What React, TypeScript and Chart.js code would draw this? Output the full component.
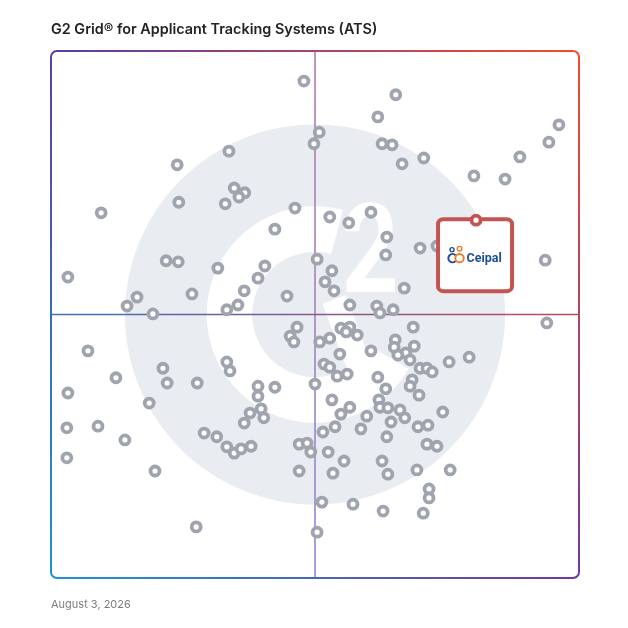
import { useEffect, useRef } from "react";
import { Chart, registerables } from "chart.js";

Chart.register(...registerables);

const TITLE = "G2 Grid® for Applicant Tracking Systems (ATS)";
const DATE_LABEL = "August 3, 2026";

// Satisfaction (x) and Market Presence (y), 0-100
const satisfaction = [
  47.9, 65.3, 61.9, 96.2, 50.8, 49.8, 62.7, 64.6, 94.3, 33.7, 88.8, 70.6, 66.5, 23.9, 80.1, 86.0, 34.7, 36.7, 35.6, 24.2,
  33.0, 9.5, 46.2, 60.6, 52.8, 56.4, 42.4, 63.6, 69.9, 73.1, 63.4, 50.4, 21.8, 24.1, 93.6, 31.6, 40.5, 3.2, 53.2, 39.2,
  51.9, 53.6, 66.9, 36.6, 26.7, 44.7, 16.3, 14.4, 35.4, 33.3, 56.6, 61.7, 64.8, 62.3, 19.3,
  93.9, 46.6, 68.6, 54.9, 56.6, 55.9, 45.3, 52.8, 58.0, 50.9, 46.0, 65.2, 65.0, 68.8, 7.0, 60.6, 67.2, 65.7, 54.7, 68.0,
  79.2, 75.4, 69.9, 71.2, 72.2, 33.3, 33.9, 51.7, 52.8, 21.2, 54.2, 56.1, 61.9, 68.4, 12.3, 22.0, 27.7, 50.0, 39.2, 42.4,
  63.4, 68.0, 69.7, 3.2, 39.2, 18.6, 53.2, 62.1, 62.3, 63.8, 66.1, 56.6, 59.8, 54.9, 39.8, 37.7, 40.3, 74.2, 67.0, 36.6,
  58.7, 69.5, 71.4, 64.4, 3.0, 8.9, 53.8, 51.5, 29.0, 31.4, 14.0, 63.6, 71.2, 73.1, 47.0, 48.5, 33.3, 34.7, 36.0, 37.9,
  52.5, 49.2, 3.0, 55.5, 62.7, 19.7, 47.0, 53.4, 63.8, 69.3, 75.6, 71.6, 71.6, 51.3, 57.2, 62.9, 70.5, 27.5, 50.4,
];
const marketPresence = [
  94.3, 91.7, 87.5, 86.0, 84.6, 82.4, 82.4, 82.2, 82.7, 81.0, 79.9, 79.7, 78.6, 78.4, 76.3, 75.7, 74.0, 73.1, 72.3, 71.3,
  71.0, 69.3, 70.2, 69.4, 68.5, 67.4, 66.2, 64.7, 62.6, 63.0, 61.3, 60.5, 60.2, 60.0, 60.3, 58.8, 59.2, 57.1, 58.3, 56.9,
  56.2, 54.5, 55.0, 54.5, 53.9, 53.5, 53.3, 51.6, 51.8, 50.9, 51.8, 51.6, 50.9, 50.3, 50.1,
  48.4, 47.6, 47.6, 47.4, 47.6, 46.7, 45.9, 45.5, 46.1, 44.8, 44.8, 45.2, 43.8, 44.0, 43.1, 43.1, 42.7, 42.3, 42.5, 41.4,
  41.9, 41.0, 39.8, 39.8, 39.1, 41.0, 39.3, 40.6, 40.0, 39.8, 38.3, 38.7, 38.1, 37.6, 38.0, 37.0, 37.0, 36.8, 36.4, 36.2,
  35.9, 36.4, 34.7, 35.1, 34.5, 33.2, 33.8, 33.8, 32.4, 32.3, 31.9, 32.4, 30.7, 31.1, 32.1, 31.3, 30.4, 31.5, 30.4, 29.4,
  28.3, 28.7, 29.0, 29.6, 28.5, 28.8, 28.7, 27.7, 27.5, 26.8, 26.2, 26.8, 25.4, 25.0, 25.4, 25.6, 24.9, 23.7, 24.5, 25.0,
  23.9, 23.9, 22.8, 22.2, 22.2, 20.3, 20.3, 19.9, 19.7, 20.5, 20.5, 16.9, 15.2, 14.4, 14.0, 12.7, 12.3, 9.7, 8.7,
];

const highlightName = "Ceipal";
const highlightSatisfaction = [80.5];
const highlightPresence = [67.9];

const QUADRANT_SPLIT = 50;

const FRAME_TL = "#5a3da7";
const FRAME_TR = "#f24d2c";
const FRAME_BL = "#1c94d4";
const FRAME_BR = "#73399a";

const gridPlugin = {
  id: "g2grid",
  beforeDatasetsDraw(chart: any) {
    const { ctx, chartArea: a, scales } = chart;
    const L = a.left, T = a.top, R = a.right, B = a.bottom;
    const w = R - L;
    const cx = (L + R) / 2, cy = (T + B) / 2;
    ctx.save();

    // watermark
    const Rw = w * 0.36;
    ctx.fillStyle = "#e9ecf0";
    ctx.beginPath();
    ctx.arc(cx, cy, Rw, 0, Math.PI * 2);
    ctx.fill();
    ctx.fillStyle = "#ffffff";
    const ro = Rw * 0.57, ri = Rw * 0.33;
    const a1 = (-75 * Math.PI) / 180, a2 = (30 * Math.PI) / 180;
    ctx.beginPath();
    ctx.arc(cx, cy, ro, a1, a2, true);
    ctx.arc(cx, cy, ri, a2, a1, false);
    ctx.closePath();
    ctx.fill();
    // crossbar
    ctx.strokeStyle = "#ffffff";
    ctx.lineWidth = Rw * 0.13;
    ctx.lineCap = "butt";
    ctx.beginPath();
    ctx.moveTo(cx + Rw * 0.1, cy - Rw * 0.08);
    ctx.lineTo(cx + Rw * 0.3, cy + Rw * 0.45);
    ctx.stroke();
    // "2"
    ctx.save();
    ctx.translate(cx + Rw * 0.29, cy - Rw * 0.12);
    ctx.scale(0.8, 1);
    ctx.font = `bold ${Math.round(Rw * 0.65)}px Roboto`;
    ctx.textAlign = "center";
    ctx.textBaseline = "alphabetic";
    ctx.fillText("2", 0, 0);
    ctx.restore();

    // quadrant lines
    const mx = scales.x.getPixelForValue(QUADRANT_SPLIT);
    const my = scales.y.getPixelForValue(QUADRANT_SPLIT);
    ctx.lineWidth = 1.6;
    let g = ctx.createLinearGradient(0, T, 0, B);
    g.addColorStop(0, "#b87aa6");
    g.addColorStop(1, "#8a8bd2");
    ctx.strokeStyle = g;
    ctx.beginPath();
    ctx.moveTo(mx, T);
    ctx.lineTo(mx, B);
    ctx.stroke();
    g = ctx.createLinearGradient(L, 0, R, 0);
    g.addColorStop(0, "#3f70c0");
    g.addColorStop(1, "#c4475a");
    ctx.strokeStyle = g;
    ctx.beginPath();
    ctx.moveTo(L, my);
    ctx.lineTo(R, my);
    ctx.stroke();

    // frame
    const r = 6;
    ctx.lineWidth = 2;
    const seg = (x1: number, y1: number, x2: number, y2: number, c1: string, c2: string) => {
      const gg = ctx.createLinearGradient(x1, y1, x2, y2);
      gg.addColorStop(0, c1);
      gg.addColorStop(1, c2);
      ctx.strokeStyle = gg;
      ctx.beginPath();
      ctx.moveTo(x1, y1);
      ctx.lineTo(x2, y2);
      ctx.stroke();
    };
    seg(L + r, T, R - r, T, FRAME_TL, FRAME_TR);
    seg(L + r, B, R - r, B, FRAME_BL, FRAME_BR);
    seg(L, T + r, L, B - r, FRAME_TL, FRAME_BL);
    seg(R, T + r, R, B - r, FRAME_TR, FRAME_BR);
    const corner = (x: number, y: number, s: number, e: number, c: string) => {
      ctx.strokeStyle = c;
      ctx.beginPath();
      ctx.arc(x, y, r, s, e);
      ctx.stroke();
    };
    corner(L + r, T + r, Math.PI, Math.PI * 1.5, FRAME_TL);
    corner(R - r, T + r, Math.PI * 1.5, Math.PI * 2, FRAME_TR);
    corner(R - r, B - r, 0, Math.PI * 0.5, FRAME_BR);
    corner(L + r, B - r, Math.PI * 0.5, Math.PI, FRAME_BL);
    ctx.restore();
  },
  afterDatasetDraw(chart: any, args: any) {
    if (args.index !== 1) return;
    const meta = chart.getDatasetMeta(0);
    const pt = meta.data[0];
    if (!pt) return;
    const px = pt.x, py = pt.y;
    const { ctx } = chart;
    ctx.save();
    ctx.fillStyle = "#ffffff";
    ctx.strokeStyle = "#c25553";
    ctx.lineWidth = 4;
    ctx.beginPath();
    ctx.roundRect(px - 38, py - 1, 74, 72, 5);
    ctx.fill();
    ctx.stroke();

    // Ceipal logo
    const blue = "#1d4f96";
    const orange = "#f07b2b";
    ctx.lineWidth = 1.4;
    ctx.strokeStyle = blue;
    ctx.beginPath();
    ctx.arc(px - 24, py + 29.5, 2, 0, Math.PI * 2);
    ctx.stroke();
    ctx.strokeStyle = orange;
    ctx.beginPath();
    ctx.arc(px - 16.5, py + 28.5, 2.3, 0, Math.PI * 2);
    ctx.stroke();
    ctx.lineWidth = 2;
    ctx.strokeStyle = blue;
    ctx.beginPath();
    ctx.arc(px - 23.5, py + 38, 4.2, Math.PI * 0.25, Math.PI * 1.75);
    ctx.stroke();
    ctx.strokeStyle = orange;
    ctx.beginPath();
    ctx.arc(px - 16.5, py + 38, 4.2, 0, Math.PI * 2);
    ctx.stroke();
    ctx.fillStyle = blue;
    ctx.font = "700 12.5px Roboto";
    ctx.textAlign = "left";
    ctx.textBaseline = "middle";
    ctx.fillText(highlightName, px - 9.5, py + 38.5);
    ctx.restore();
  },
};

export default function App() {
  const canvasRef = useRef<HTMLCanvasElement | null>(null);

  useEffect(() => {
    const canvas = canvasRef.current;
    if (!canvas) return;
    const products = satisfaction.map((x, i) => ({ x, y: marketPresence[i] }));
    const highlight = highlightSatisfaction.map((x, i) => ({ x, y: highlightPresence[i] }));
    const chart = new Chart(canvas, {
      type: "scatter",
      data: {
        datasets: [
          {
            label: highlightName,
            data: highlight,
            pointRadius: 4.5,
            pointBorderWidth: 3.8,
            pointBorderColor: "#c25553",
            pointBackgroundColor: "#ffffff",
          },
          {
            label: "Products",
            data: products,
            pointRadius: 4.5,
            pointBorderWidth: 3.8,
            pointBorderColor: "#a0a4af",
            pointBackgroundColor: "#ffffff",
          },
        ],
      },
      options: {
        responsive: false,
        animation: false,
        events: [],
        layout: { padding: { left: 51, top: 51, right: 49, bottom: 50 } },
        plugins: { legend: { display: false }, tooltip: { enabled: false }, title: { display: false } },
        scales: {
          x: { type: "linear", min: 0, max: 100, display: false },
          y: { type: "linear", min: 0, max: 100, display: false },
        },
      },
      plugins: [gridPlugin],
    } as any);
    return () => chart.destroy();
  }, []);

  return (
    <div style={{ position: "fixed", left: 0, top: 0, width: 628, height: 628, background: "#fff" }}>
      <canvas
        ref={canvasRef}
        width={628}
        height={628}
        style={{ position: "absolute", left: 0, top: 0, width: 628, height: 628 }}
      />
      <div
        style={{
          position: "absolute",
          left: 51,
          top: 20,
          fontFamily: "Inter, 'Noto Sans', sans-serif",
          fontWeight: 600,
          fontSize: 14.4,
          lineHeight: "18px",
          color: "#222222",
          whiteSpace: "nowrap",
        }}
      >
        {TITLE}
      </div>
      <div
        style={{
          position: "absolute",
          left: 51,
          top: 597,
          fontFamily: "Inter, 'Noto Sans', sans-serif",
          fontSize: 11,
          lineHeight: "14px",
          color: "#7d7d7d",
          whiteSpace: "nowrap",
        }}
      >
        {DATE_LABEL}
      </div>
    </div>
  );
}
